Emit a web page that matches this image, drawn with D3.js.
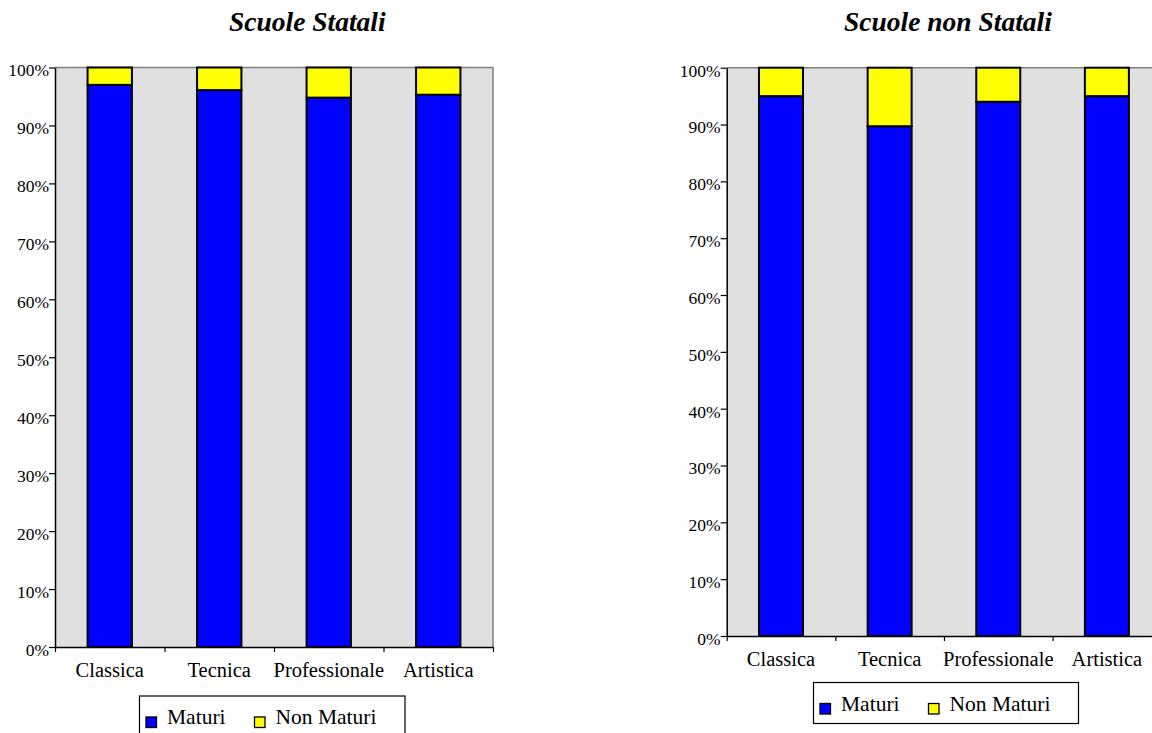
<!DOCTYPE html>
<html>
<head>
<meta charset="utf-8">
<script src="https://cdn.jsdelivr.net/npm/d3@7"></script>
<style>
  html, body { margin: 0; padding: 0; background: #fff; }
  svg { display: block; }
  text { font-family: "Liberation Serif", "Times New Roman", serif; fill: #000; }
</style>
</head>
<body>
<svg id="chart" width="1152" height="733"></svg>
<script>
// Esiti degli esami di maturità per tipo di istruzione (valori percentuali)
const categories = ["Classica", "Tecnica", "Professionale", "Artistica"];
const seriesNames = ["Maturi", "Non Maturi"];
const seriesColors = ["#0000ff", "#ffff00"];

const statMaturi = [97.0, 96.1, 94.8, 95.3];
const statNonMaturi = [3.0, 3.9, 5.2, 4.7];

const nonStatMaturi = [95.0, 89.7, 94.0, 95.0];
const nonStatNonMaturi = [5.0, 10.3, 6.0, 5.0];

const yTicks = [0, 10, 20, 30, 40, 50, 60, 70, 80, 90, 100];

const FONT = '"Liberation Serif", "Times New Roman", serif';

const panels = [
  {
    title: "Scuole Statali", titleX: 229,
    maturi: statMaturi, nonMaturi: statNonMaturi,
    left: 55, right: 493, top: 67.5, bottom: 647,
    legend: { x: 139.5, y: 696, w: 265.5, h: 41 }
  },
  {
    title: "Scuole non Statali", titleX: 844,
    maturi: nonStatMaturi, nonMaturi: nonStatNonMaturi,
    left: 726.7, right: 1161.2, top: 67.7, bottom: 636,
    legend: { x: 813.5, y: 682.5, w: 265, h: 41 }
  }
];

const svg = d3.select("#chart");

panels.forEach(p => {
  const g = svg.append("g");

  const rows = categories.map((c, i) => ({
    cat: c, "Maturi": p.maturi[i], "Non Maturi": p.nonMaturi[i]
  }));
  const stacked = d3.stack().keys(seriesNames)(rows);

  const x = d3.scaleBand()
    .domain(categories)
    .range([p.left, p.right])
    .paddingInner(0.595)
    .paddingOuter(0.2975);

  const y = d3.scaleLinear().domain([0, 100]).range([p.bottom, p.top]);

  // Title
  g.append("text")
    .attr("x", p.titleX)
    .attr("y", 31)
    .style("font-family", FONT)
    .style("font-size", "27.5px")
    .style("font-weight", "bold")
    .style("font-style", "italic")
    .text(p.title);

  // Plot area
  g.append("rect")
    .attr("x", p.left).attr("y", p.top)
    .attr("width", p.right - p.left).attr("height", p.bottom - p.top)
    .attr("fill", "#e0e0e0");

  // Top and right frame lines
  g.append("path")
    .attr("d", `M${p.left},${p.top}H${p.right}V${p.bottom}`)
    .attr("fill", "none")
    .attr("stroke", "#808080")
    .attr("stroke-width", 1.5);

  // Stacked bars
  g.selectAll("g.series")
    .data(stacked)
    .join("g")
    .attr("class", "series")
    .attr("fill", (d, i) => seriesColors[i])
    .selectAll("rect")
    .data(d => d)
    .join("rect")
    .attr("x", d => x(d.data.cat))
    .attr("width", x.bandwidth())
    .attr("y", d => y(d[1]))
    .attr("height", d => y(d[0]) - y(d[1]))
    .attr("stroke", "#000")
    .attr("stroke-width", 2);

  // Y axis
  const yAxis = g.append("g")
    .attr("transform", `translate(${p.left},0)`)
    .call(d3.axisLeft(y).tickValues(yTicks).tickFormat(d => d + "%")
      .tickSize(6).tickSizeOuter(0).tickPadding(0));
  yAxis.select(".domain").attr("stroke", "#000").attr("stroke-width", 1.5);
  yAxis.selectAll(".tick line").attr("stroke", "#000").attr("stroke-width", 1.2);
  yAxis.selectAll(".tick text")
    .attr("dy", "0.48em")
    .style("font-size", "17.5px")
    .style("font-family", FONT);

  // X axis: tick marks at category boundaries
  const xb = d3.scaleLinear().domain([0, categories.length]).range([p.left, p.right]);
  const xAxis = g.append("g")
    .attr("transform", `translate(0,${p.bottom})`)
    .call(d3.axisBottom(xb).tickValues(d3.range(categories.length + 1))
      .tickFormat("").tickSize(5).tickSizeOuter(0));
  xAxis.select(".domain").attr("stroke", "#000").attr("stroke-width", 1.5);
  xAxis.selectAll(".tick line").attr("stroke", "#000").attr("stroke-width", 1.2);

  // Category labels
  const xLabels = g.append("g")
    .attr("transform", `translate(0,${p.bottom})`)
    .call(d3.axisBottom(x).tickSize(0).tickPadding(0));
  xLabels.select(".domain").remove();
  xLabels.selectAll(".tick text")
    .attr("y", 29.5).attr("dy", 0)
    .style("font-size", "20.5px")
    .style("font-family", FONT);

  // Legend
  const L = p.legend;
  const lg = g.append("g").attr("transform", `translate(${L.x},${L.y})`);
  lg.append("rect")
    .attr("width", L.w).attr("height", L.h)
    .attr("fill", "#fff").attr("stroke", "#000").attr("stroke-width", 1.2);
  const itemX = [6.5, 115];
  seriesNames.forEach((name, i) => {
    lg.append("rect")
      .attr("x", itemX[i]).attr("y", 21)
      .attr("width", 10.5).attr("height", 10.5)
      .attr("fill", seriesColors[i]).attr("stroke", "#000").attr("stroke-width", 1.3);
    lg.append("text")
      .attr("x", itemX[i] + 21).attr("y", 28)
      .style("font-family", FONT)
      .style("font-size", "21.5px")
      .text(name);
  });
});
</script>
</body>
</html>
